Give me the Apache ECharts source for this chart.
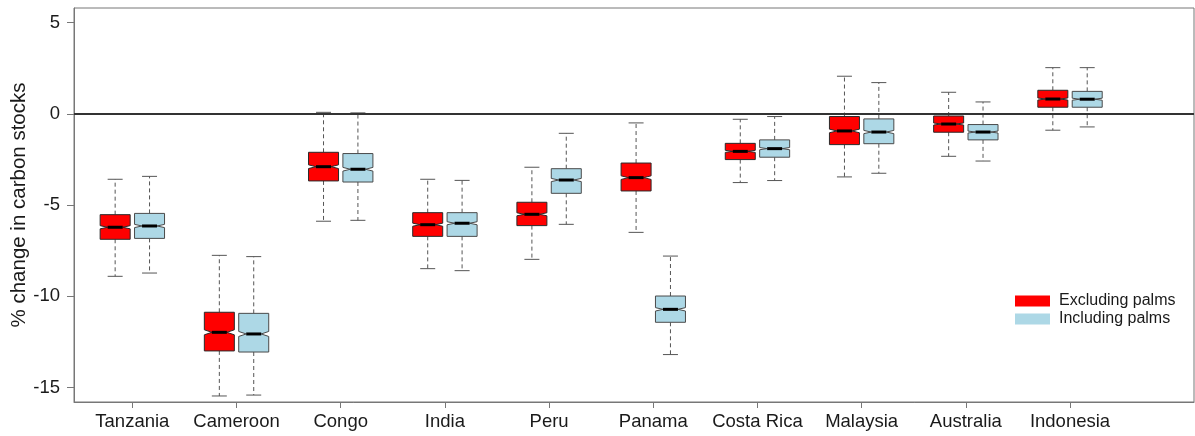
<!DOCTYPE html>
<html><head><meta charset="utf-8">
<script src="https://cdn.jsdelivr.net/npm/echarts@6/dist/echarts.min.js"></script>
<style>html,body{margin:0;padding:0;background:#fff}#c{width:1195px;height:436px}</style>
</head><body><div id="c"></div>
<script>
// ---- data ----
const categories = ['Tanzania','Cameroon','Congo','India','Peru','Panama','Costa Rica','Malaysia','Australia','Indonesia'];
const yTicks = [-15, -10, -5, 0, 5];
// [lower whisker, Q1, median, Q3, upper whisker]
const excludingPalms = [
  [-8.91, -6.88, -6.22, -5.53, -3.59],
  [-15.47, -13.00, -11.98, -10.88, -7.76],
  [-5.89, -3.68, -2.90, -2.11, 0.08],
  [-8.49, -6.72, -6.08, -5.42, -3.59],
  [-7.98, -6.13, -5.51, -4.85, -2.93],
  [-6.50, -4.23, -3.50, -2.70, -0.50],
  [-3.77, -2.51, -2.06, -1.62, -0.30],
  [-3.46, -1.69, -0.94, -0.15, 2.06],
  [-2.33, -1.01, -0.56, -0.12, 1.18],
  [-0.90, 0.36, 0.81, 1.29, 2.53]
];
const includingPalms = [
  [-8.73, -6.83, -6.15, -5.46, -3.43],
  [-15.42, -13.06, -12.07, -10.94, -7.83],
  [-5.84, -3.74, -3.04, -2.18, 0.05],
  [-8.60, -6.72, -6.00, -5.42, -3.65],
  [-6.06, -4.36, -3.63, -3.01, -1.07],
  [-13.20, -11.43, -10.72, -9.99, -7.80],
  [-3.66, -2.38, -1.91, -1.43, -0.15],
  [-3.26, -1.64, -1.00, -0.28, 1.71],
  [-2.59, -1.43, -1.00, -0.59, 0.65],
  [-0.72, 0.36, 0.80, 1.23, 2.53]
];
const seriesNames = ['Excluding palms', 'Including palms'];
const sampleSize = 600; // assumed n for notch width (1.58*IQR/sqrt(n))

// ---- layout / style ----
const FONT = '"Liberation Sans", Arial, sans-serif';
const colors = ['#FF0000', '#ADD8E6'];
const borders = ['#2a2a2a', '#4a4a4a'];
const OFFSET = 0.165, BOX_W = 0.288;

function makeRender(si) {
  return function (params, api) {
    const x = api.value(0);
    const lo = api.value(1), q1 = api.value(2), md = api.value(3), q3 = api.value(4), hi = api.value(5);
    const cx = api.coord([x, md])[0];
    const hw = api.size([BOX_W / 2, 0])[0];
    const Y = v => api.coord([x, v])[1];
    const nh = 1.58 * (q3 - q1) / Math.sqrt(sampleSize);
    const pts = [
      [cx - hw, Y(q1)], [cx + hw, Y(q1)], [cx + hw, Y(md - nh)], [cx + hw / 2, Y(md)],
      [cx + hw, Y(md + nh)], [cx + hw, Y(q3)], [cx - hw, Y(q3)], [cx - hw, Y(md + nh)],
      [cx - hw / 2, Y(md)], [cx - hw, Y(md - nh)]
    ];
    const wcol = '#555';
    const dash = { stroke: wcol, lineWidth: 1, lineDash: [4, 3] };
    const solid = { stroke: wcol, lineWidth: 1 };
    return {
      type: 'group',
      children: [
        { type: 'line', shape: { x1: cx, y1: Y(q3), x2: cx, y2: Y(hi) }, style: dash },
        { type: 'line', shape: { x1: cx, y1: Y(q1), x2: cx, y2: Y(lo) }, style: dash },
        { type: 'line', shape: { x1: cx - hw / 2, y1: Y(hi), x2: cx + hw / 2, y2: Y(hi) }, style: solid },
        { type: 'line', shape: { x1: cx - hw / 2, y1: Y(lo), x2: cx + hw / 2, y2: Y(lo) }, style: solid },
        { type: 'polygon', shape: { points: pts }, style: { fill: colors[si], stroke: borders[si], lineWidth: 1 } },
        { type: 'line', shape: { x1: cx - hw / 2, y1: Y(md), x2: cx + hw / 2, y2: Y(md) }, style: { stroke: '#000', lineWidth: 3 } }
      ]
    };
  };
}

const groups = [excludingPalms, includingPalms];
const series = groups.map((g, si) => ({
  type: 'custom',
  name: seriesNames[si],
  itemStyle: { color: colors[si] },
  renderItem: makeRender(si),
  encode: { x: 0, y: [1, 2, 3, 4, 5] },
  data: g.map((s, i) => [i + 1 + (si === 0 ? -OFFSET : OFFSET)].concat(s)),
  z: 3,
  markLine: si === 0 ? {
    silent: true, symbol: ['none', 'none'], label: { show: false },
    lineStyle: { color: '#333', width: 2, type: 'solid' },
    data: [{ yAxis: 0 }], animation: false
  } : undefined
}));

const chart = echarts.init(document.getElementById('c'));
chart.setOption({
  animation: false,
  backgroundColor: '#fff',
  grid: { left: 74, right: 1, top: 8, bottom: 34, containLabel: false, outerBoundsMode: 'none', show: true, borderColor: '#777', borderWidth: 1, backgroundColor: 'transparent' },
  legend: {
    orient: 'vertical', left: 1015, top: 293, padding: 0, itemGap: 2,
    itemWidth: 35, itemHeight: 11, icon: 'rect',
    data: seriesNames.map((n, i) => ({ name: n, icon: 'rect', itemStyle: { color: colors[i], borderWidth: 0 } })),
    textStyle: { fontFamily: FONT, fontSize: 16, color: '#1a1a1a', padding: [0, 0, 0, 4] },
    selectedMode: false
  },
  xAxis: {
    type: 'value', min: 0.44, max: 11.19,
    axisLine: { show: true, onZero: false, lineStyle: { color: '#777' } },
    axisTick: { show: true, length: 6, lineStyle: { color: '#777' }, customValues: categories.map((c, i) => i + 1) },
    axisLabel: {
      customValues: categories.map((c, i) => i + 1),
      formatter: v => categories[Math.round(v) - 1] || '',
      margin: 10, fontFamily: FONT, fontSize: 18.5, color: '#1a1a1a'
    },
    splitLine: { show: false }
  },
  yAxis: {
    type: 'value', min: -15.8, max: 5.8,
    name: '% change in carbon stocks', nameLocation: 'middle', nameGap: 44, nameMoveOverlap: false,
    nameTextStyle: { fontFamily: FONT, fontSize: 20.5, color: '#1a1a1a' },
    axisLine: { show: true, onZero: false, lineStyle: { color: '#777' } },
    axisTick: { show: true, length: 7, lineStyle: { color: '#777' }, customValues: yTicks },
    axisLabel: { customValues: yTicks, margin: 14, fontFamily: FONT, fontSize: 18.5, color: '#1a1a1a' },
    splitLine: { show: false }
  },
  series: series
});
</script>
</body></html>
